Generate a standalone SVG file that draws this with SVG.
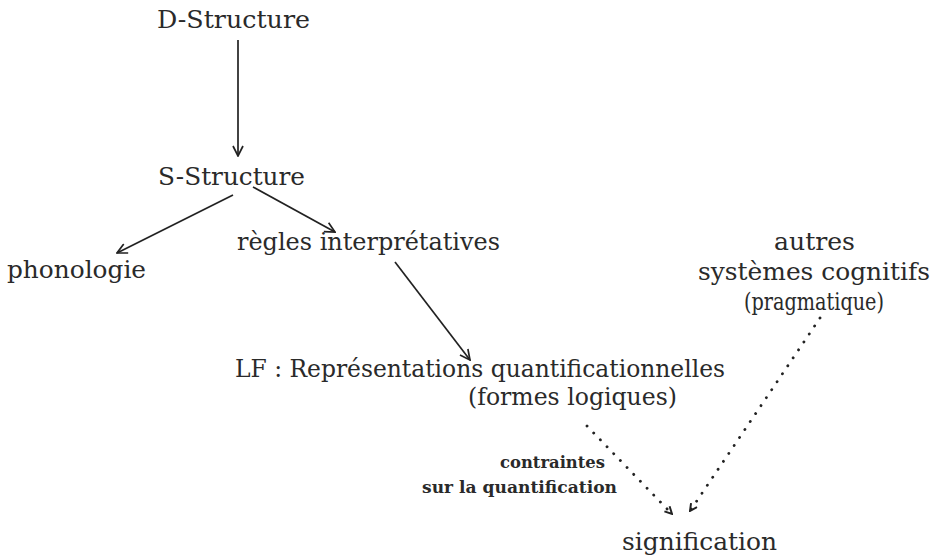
<svg xmlns="http://www.w3.org/2000/svg" width="939" height="557" viewBox="0 0 939 557">
<defs>
<style>
.t{font-family:"DejaVu Serif","Liberation Serif",serif;font-size:24.5px;fill:#2a2a2a}
.s{font-family:"DejaVu Serif","Liberation Serif",serif;font-size:16.5px;font-weight:bold;fill:#2a2a2a}
.a{stroke:#222;stroke-width:1.7;fill:none}
.d{stroke:#222;stroke-width:2.8;fill:none;stroke-dasharray:0.1 9.5;stroke-linecap:round}
</style>
<marker id="arr" viewBox="0 0 12 12" refX="11" refY="6" markerWidth="12" markerHeight="12" markerUnits="userSpaceOnUse" orient="auto">
<path d="M1,1 L11,6 L1,11" fill="none" stroke="#222" stroke-width="1.7"/>
</marker>
<marker id="arrd" viewBox="0 0 10 10" refX="9" refY="5" markerWidth="9" markerHeight="9" markerUnits="userSpaceOnUse" orient="auto">
<path d="M1,1 L9,5 L1,9" fill="none" stroke="#222" stroke-width="2.2"/>
</marker>
</defs>
<rect width="939" height="557" fill="#fff"/>
<g id="connectors">
<line class="a" x1="238" y1="40" x2="238" y2="156" marker-end="url(#arr)"/>
<line class="a" x1="233" y1="195" x2="117" y2="253" marker-end="url(#arr)"/>
<line class="a" x1="253" y1="187" x2="335" y2="232" marker-end="url(#arr)"/>
<line class="a" x1="395" y1="262" x2="470" y2="360" marker-end="url(#arr)"/>
<line class="d" x1="587" y1="426" x2="672" y2="514" marker-end="url(#arrd)"/>
<line class="d" x1="820" y1="318" x2="690" y2="511" marker-end="url(#arrd)"/>
</g>
<g id="d-structure"><text class="t" x="157" y="28" textLength="153" lengthAdjust="spacingAndGlyphs">D-Structure</text></g>
<g id="s-structure"><text class="t" x="158" y="185" textLength="147" lengthAdjust="spacingAndGlyphs">S-Structure</text></g>
<g id="phonologie"><text class="t" x="7" y="278" textLength="139" lengthAdjust="spacingAndGlyphs">phonologie</text></g>
<g id="regles"><text class="t" x="237" y="250" textLength="263" lengthAdjust="spacingAndGlyphs">règles interprétatives</text></g>
<g id="autres">
<text class="t" x="774" y="250" textLength="81" lengthAdjust="spacingAndGlyphs">autres</text>
<text class="t" x="698" y="280" textLength="232" lengthAdjust="spacingAndGlyphs">systèmes cognitifs</text>
<text class="t" x="744" y="310" textLength="140" lengthAdjust="spacingAndGlyphs">(pragmatique)</text>
</g>
<g id="lf">
<text class="t" x="235" y="377" textLength="490" lengthAdjust="spacingAndGlyphs">LF : Représentations quantificationnelles</text>
<text class="t" x="468" y="405" textLength="209" lengthAdjust="spacingAndGlyphs">(formes logiques)</text>
</g>
<g id="contraintes">
<text class="s" x="500" y="468" textLength="105" lengthAdjust="spacingAndGlyphs">contraintes</text>
<text class="s" x="422" y="493" textLength="195" lengthAdjust="spacingAndGlyphs">sur la quantification</text>
</g>
<g id="signification"><text class="t" x="622" y="550" textLength="155" lengthAdjust="spacingAndGlyphs">signification</text></g>
</svg>
